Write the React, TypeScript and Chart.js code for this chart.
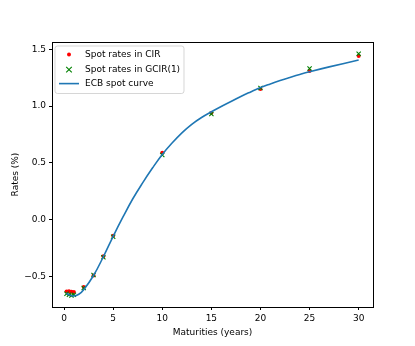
import React, { useEffect, useRef } from "react";
import { Chart, registerables } from "chart.js";

Chart.register(...registerables);

const maturities = [0.25, 0.5, 0.75, 1, 2, 3, 4, 5, 10, 15, 20, 25, 30];
const cirRates = [-0.63, -0.628, -0.632, -0.634, -0.59, -0.49, -0.32, -0.14, 0.59, 0.94, 1.15, 1.31, 1.44];
const gcirRates = [-0.65, -0.66, -0.665, -0.66, -0.6, -0.485, -0.33, -0.15, 0.57, 0.93, 1.16, 1.33, 1.46];

const curveMaturities = [0.25, 0.5, 0.75, 1, 1.5, 2, 3, 4, 5, 6, 7, 8, 9, 10, 11, 12, 13, 14, 15, 16, 17, 18, 19, 20, 21, 22, 23, 24, 25, 27, 30];
const curveRates = [-0.645, -0.66, -0.668, -0.67, -0.655, -0.615, -0.49, -0.325, -0.145, 0.025, 0.185, 0.325, 0.455, 0.575, 0.675, 0.765, 0.84, 0.9, 0.95, 0.997, 1.04, 1.085, 1.125, 1.163, 1.195, 1.225, 1.252, 1.278, 1.302, 1.345, 1.405];

const xTicks = [0, 5, 10, 15, 20, 25, 30];
const xTickLabels = ["0", "5", "10", "15", "20", "25", "30"];
const yTicks = [-0.5, 0, 0.5, 1, 1.5];
const yTickLabels = ["\u22120.5", "0.0", "0.5", "1.0", "1.5"];

const FONT = "'DejaVu Sans', sans-serif";

const framePlugin = {
  id: "frame",
  afterDraw(chart: any) {
    const { ctx, chartArea } = chart;
    ctx.save();
    ctx.strokeStyle = "#000";
    ctx.lineWidth = 1;
    ctx.strokeRect(
      Math.round(chartArea.left) + 0.5,
      Math.round(chartArea.top) + 0.5,
      Math.round(chartArea.right - chartArea.left),
      Math.round(chartArea.bottom - chartArea.top)
    );
    ctx.restore();
  },
};

const legendPlugin = {
  id: "mplLegend",
  afterDraw(chart: any) {
    const { ctx, chartArea } = chart;
    const ds = chart.data.datasets;
    const x0 = chartArea.left + 3;
    const y0 = chartArea.top + 4;
    const w = 129;
    const h = 47.5;
    ctx.save();
    ctx.beginPath();
    const r = 2.5;
    ctx.moveTo(x0 + r, y0);
    ctx.lineTo(x0 + w - r, y0);
    ctx.quadraticCurveTo(x0 + w, y0, x0 + w, y0 + r);
    ctx.lineTo(x0 + w, y0 + h - r);
    ctx.quadraticCurveTo(x0 + w, y0 + h, x0 + w - r, y0 + h);
    ctx.lineTo(x0 + r, y0 + h);
    ctx.quadraticCurveTo(x0, y0 + h, x0, y0 + h - r);
    ctx.lineTo(x0, y0 + r);
    ctx.quadraticCurveTo(x0, y0, x0 + r, y0);
    ctx.closePath();
    ctx.fillStyle = "rgba(255,255,255,0.8)";
    ctx.fill();
    ctx.strokeStyle = "rgba(204,204,204,0.8)";
    ctx.lineWidth = 1;
    ctx.stroke();

    const rowY = [y0 + 8.6, y0 + 23.6, y0 + 37.6];
    const mx = x0 + 14;
    ctx.fillStyle = ds[0].backgroundColor;
    ctx.beginPath();
    ctx.arc(mx, rowY[0], 2, 0, Math.PI * 2);
    ctx.fill();
    ctx.strokeStyle = ds[1].borderColor;
    ctx.lineWidth = 1.1;
    ctx.beginPath();
    const s = 2.8;
    ctx.moveTo(mx - s, rowY[1] - s);
    ctx.lineTo(mx + s, rowY[1] + s);
    ctx.moveTo(mx + s, rowY[1] - s);
    ctx.lineTo(mx - s, rowY[1] + s);
    ctx.stroke();
    ctx.strokeStyle = ds[2].borderColor;
    ctx.lineWidth = 1.6;
    ctx.beginPath();
    ctx.moveTo(x0 + 4, rowY[2]);
    ctx.lineTo(x0 + 24, rowY[2]);
    ctx.stroke();

    ctx.fillStyle = "#000";
    ctx.font = `9px ${FONT}`;
    ctx.textBaseline = "middle";
    ctx.textAlign = "left";
    for (let i = 0; i < 3; i++) {
      ctx.fillText(ds[i].label, x0 + 30, rowY[i]);
    }
    ctx.restore();
  },
};

export default function App() {
  const ref = useRef<HTMLCanvasElement | null>(null);

  useEffect(() => {
    if (!ref.current) return;
    const chart = new Chart(ref.current, {
      type: "scatter",
      data: {
        datasets: [
          {
            label: "Spot rates in CIR",
            data: maturities.map((m, i) => ({ x: m, y: cirRates[i] })),
            backgroundColor: "#ff0000",
            borderColor: "#ff0000",
            pointStyle: "circle",
            pointRadius: 2,
            pointBorderWidth: 0,
            order: 3,
          },
          {
            label: "Spot rates in GCIR(1)",
            data: maturities.map((m, i) => ({ x: m, y: gcirRates[i] })),
            backgroundColor: "#008000",
            borderColor: "#008000",
            pointStyle: "crossRot",
            pointRadius: 3,
            pointBorderWidth: 1.1,
            order: 2,
          },
          {
            label: "ECB spot curve",
            data: curveMaturities.map((m, i) => ({ x: m, y: curveRates[i] })),
            borderColor: "#1f77b4",
            backgroundColor: "#1f77b4",
            showLine: true,
            pointRadius: 0,
            borderWidth: 1.6,
            tension: 0.4,
            order: 1,
          },
        ],
      },
      options: {
        animation: false,
        responsive: true,
        maintainAspectRatio: false,
        layout: { padding: { left: 0, right: 42, top: 42, bottom: 0 } },
        plugins: {
          legend: { display: false },
          tooltip: { enabled: false },
        },
        scales: {
          x: {
            type: "linear",
            min: -1.23,
            max: 31.46,
            afterFit: (s: any) => {
              s.height = 39;
            },
            afterBuildTicks: (s: any) => {
              s.ticks = xTicks.map((v) => ({ value: v }));
            },
            ticks: {
              color: "#000",
              font: { family: FONT, size: 9 },
              padding: 3,
              maxRotation: 0,
              callback: (v: any) => {
                const i = xTicks.indexOf(Number(v));
                return i >= 0 ? xTickLabels[i] : "";
              },
            },
            grid: {
              display: true,
              drawOnChartArea: false,
              drawTicks: true,
              tickLength: 3,
              color: "#000",
              lineWidth: 1,
            },
            border: { display: false },
            title: {
              display: true,
              text: "Maturities (years)",
              color: "#000",
              font: { family: FONT, size: 9 },
              padding: { top: 0, bottom: 7.6 },
            },
          },
          y: {
            type: "linear",
            min: -0.767,
            max: 1.564,
            afterFit: (s: any) => {
              s.width = 52;
            },
            afterBuildTicks: (s: any) => {
              s.ticks = yTicks.map((v) => ({ value: v }));
            },
            ticks: {
              color: "#000",
              font: { family: FONT, size: 9 },
              padding: 3,
              callback: (v: any) => {
                const i = yTicks.findIndex((t) => Math.abs(t - Number(v)) < 1e-9);
                return i >= 0 ? yTickLabels[i] : "";
              },
            },
            grid: {
              display: true,
              drawOnChartArea: false,
              drawTicks: true,
              tickLength: 3,
              color: "#000",
              lineWidth: 1,
            },
            border: { display: false },
            title: {
              display: true,
              text: "Rates (%)",
              color: "#000",
              font: { family: FONT, size: 9 },
              padding: { top: 10.5, bottom: 0 },
            },
          },
        },
      },
      plugins: [framePlugin, legendPlugin],
    });
    return () => chart.destroy();
  }, []);

  return (
    <div style={{ position: "fixed", left: 0, top: 0, width: 415, height: 346, background: "#fff" }}>
      <canvas ref={ref} />
    </div>
  );
}
